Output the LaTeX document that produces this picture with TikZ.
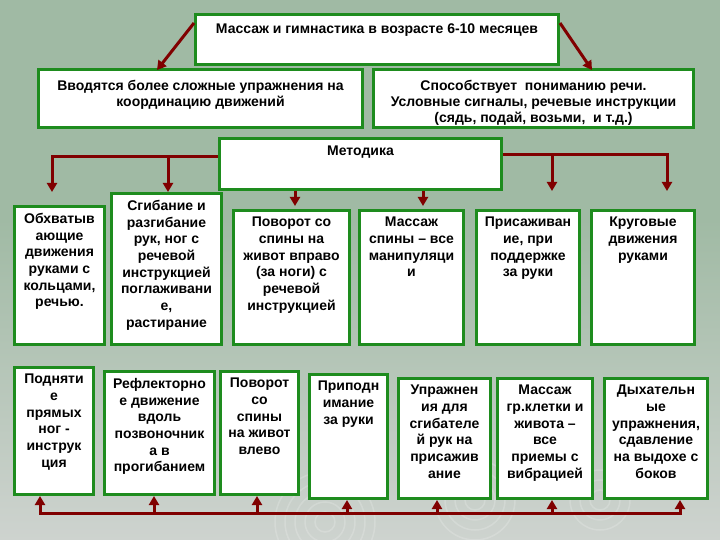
\documentclass[tikz,border=0pt]{standalone}
\usepackage{fontspec}
\setmainfont{Liberation Sans}
\usetikzlibrary{arrows.meta}
\definecolor{bgtop}{RGB}{160,186,164}
\definecolor{bgbot}{RGB}{206,211,207}
\definecolor{boxgreen}{RGB}{30,140,30}
\definecolor{arrred}{RGB}{128,0,0}
\newcommand\mybox[7]{%
  \node[box, minimum width=#4pt, minimum height=#5pt] (#1) at (#2,#3) {};
  \node[txt] (#1t) at ([yshift=-#6pt]#1.north) {#7};}
\begin{document}
\begin{tikzpicture}[x=1pt,y=-1pt,
  box/.style={draw=boxgreen, line width=3pt, fill=white, inner sep=0pt, anchor=north west},
  txt/.style={font=\bfseries\fontsize{14}{16.7}\selectfont, align=center, inner sep=0pt, anchor=north},
  toptxt/.style={txt, font=\bfseries\fontsize{14}{16}\selectfont},
  arr/.style={draw=arrred, line width=3pt, line join=miter, -{Triangle[width=10pt,length=9pt]}},
  ln/.style={draw=arrred, line width=3pt, line cap=rect},
  swirl/.style={draw=white, opacity=0.18, line width=1.5pt}]
\useasboundingbox (0,0) rectangle (720,540);
% background
\fill[bgtop] (0,0) rectangle (720,220);
\shade[top color=bgtop, bottom color=bgbot] (0,219) rectangle (720,540);
\foreach \r in {10,20,30,40,50} {\draw[swirl] (325,522) circle[radius=\r];}
\foreach \r in {10,20,30,40} {\draw[swirl] (475,500) circle[radius=\r];}
\foreach \r in {10,20,30} {\draw[swirl] (600,500) circle[radius=\r];}
% top boxes
\node[box, minimum width=363pt, minimum height=50pt] (title) at (194,13) {};
\node[toptxt] (titlet) at ([yshift=-10.5pt]title.north) {Массаж и гимнастика в возрасте 6-10 месяцев};
\node[box, minimum width=324pt, minimum height=58pt] (left) at (37,68) {};
\node[toptxt] (leftt) at ([yshift=-12pt]left.north) {Вводятся более сложные упражнения на\\координацию движений};
\node[box, minimum width=320pt, minimum height=58pt] (right) at (372,68) {};
\node[toptxt] (rightt) at ([yshift=-12pt]right.north) {Способствует\ \ пониманию речи.\\Условные сигналы, речевые инструкции\\(сядь, подай, возьми,\ \ и т.д.)};
\node[box, minimum width=282pt, minimum height=51pt] (met) at (218,137) {};
\node[toptxt] (mett) at ([yshift=-8.5pt]met.north) {Методика};
% row 1
\mybox{b1}{13}{205}{90}{138}{8}{Обхватыв\\ающие\\движения\\руками с\\кольцами,\\речью.}
\mybox{b2}{110}{192}{110}{151}{8}{Сгибание и\\разгибание\\рук, ног с\\речевой\\инструкцией\\поглаживани\\е,\\растирание}
\mybox{b3}{232}{209}{116}{134}{8}{Поворот со\\спины на\\живот вправо\\(за ноги) с\\речевой\\инструкцией}
\mybox{b4}{358}{209}{104}{134}{8}{Массаж\\спины – все\\манипуляци\\и}
\mybox{b5}{475}{209}{103}{134}{8}{Присаживан\\ие, при\\поддержке\\за руки}
\mybox{b6}{590}{209}{103}{134}{8}{Круговые\\движения\\руками}
% row 2
\mybox{c1}{13}{366}{79}{127}{8}{Подняти\\е\\прямых\\ног -\\инструк\\ция}
\mybox{c2}{103}{370}{110}{123}{8}{Рефлекторно\\е движение\\вдоль\\позвоночник\\а в\\прогибанием}
\mybox{c3}{219}{370}{78}{123}{8}{Поворот\\со\\спины\\на живот\\влево}
\mybox{c4}{308}{373}{78}{124}{8}{Приподн\\имание\\за руки}
\mybox{c5}{397}{377}{92}{120}{8}{Упражнен\\ия для\\сгибателе\\й рук на\\присажив\\ание}
\mybox{c6}{496}{377}{95}{120}{8}{Массаж\\гр.клетки и\\живота –\\все\\приемы с\\вибрацией}
\mybox{c7}{603}{377}{103}{120}{8}{Дыхательн\\ые\\упражнения,\\сдавление\\на выдохе с\\боков}
% top connectors
\coordinate (tl) at (157,70);
\coordinate (tr) at (592,70);
\draw[arr] ([yshift=-10pt]title.north west) -- (tl);
\draw[arr] ([yshift=-10pt]title.north east) -- (tr);
% methodika connectors
\coordinate (hl) at (52,157);
\coordinate (hlt) at (52,192);
\coordinate (hl2) at (168,157);
\coordinate (hr) at (667,155);
\coordinate (hrt) at (667,191);
\coordinate (hr2) at (552,155);
\coordinate (hr2t) at (552,191);
\draw[arr] (hl -| met.west) -- (hl) -- (hlt);
\draw[arr] (hl2) -- (hl2 |- b2.north);
\draw[arr] (hr -| met.east) -- (hr) -- (hrt);
\draw[arr] (hr2) -- (hr2t);
\coordinate (m1) at (295,206);
\coordinate (m2) at (423,206);
\draw[arr] (m1 |- met.south) -- (m1);
\draw[arr] (m2 |- met.south) -- (m2);
% bottom connectors
\coordinate (u1) at (40,513);
\coordinate (u2) at (154,513);
\coordinate (u3) at (257,513);
\coordinate (u4) at (347,513);
\coordinate (u5) at (437,513);
\coordinate (u6) at (552,513);
\coordinate (u7) at (680,513);
\draw[ln] (u1) -- (u7);
\draw[arr] (u1) -- (u1 |- c1.south);
\draw[arr] (u2) -- (u2 |- c2.south);
\draw[arr] (u3) -- (u3 |- c3.south);
\draw[arr] (u4) -- (u4 |- c4.south);
\draw[arr] (u5) -- (u5 |- c5.south);
\draw[arr] (u6) -- (u6 |- c6.south);
\draw[arr] (u7) -- (u7 |- c7.south);
\end{tikzpicture}
\end{document}
